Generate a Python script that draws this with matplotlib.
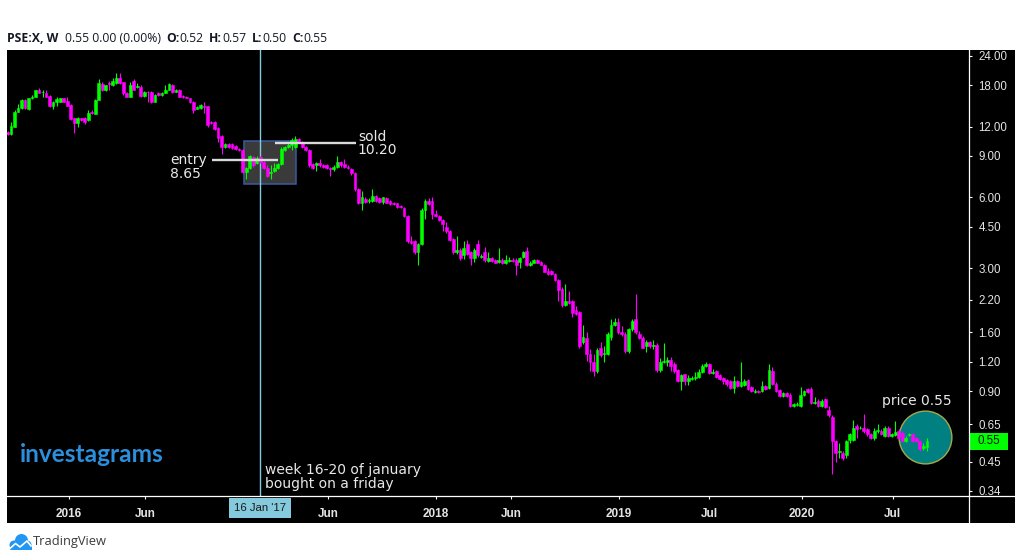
import matplotlib
matplotlib.use('Agg')
import matplotlib.pyplot as plt
import matplotlib.dates as mdates
import matplotlib.transforms as mtransforms
from matplotlib.patches import Rectangle, Circle, Polygon
from matplotlib.lines import Line2D
import numpy as np
import pandas as pd

# Weekly candles of PSE:X, one per Monday
weeks = pd.date_range('2015-08-31', periods=263, freq='7D')

opens = [
    11.35, 11.1, 12.0, 13.9, 14.4, 15.6, 14.3, 15.8, 16.1, 17.1,
    16.8, 16.7, 16.2, 14.6, 15.3, 15.3, 15.8, 15.4, 14.8, 13.0,
    12.4, 13.0, 13.1, 12.8, 13.8, 13.6, 15.6, 18.2, 17.1, 18.3,
    18.0, 18.3, 19.3, 18.5, 16.7, 16.1, 18.7, 17.6, 17.6, 16.2,
    16.85, 16.9, 15.3, 16.7, 16.3, 16.7, 17.2, 18.0, 16.9, 17.2,
    16.2, 16.1, 15.8, 15.3, 14.3, 14.4, 14.6, 14.6, 12.5, 12.6,
    11.8, 10.9, 9.8, 10.1, 10.1, 9.9, 9.6, 9.5, 7.7, 8.0,
    8.9, 8.4, 8.9, 8.5, 8.0, 7.6, 7.75, 8.0, 8.3, 9.5,
    9.8, 10.0, 9.8, 10.6, 10.3, 9.8, 9.5, 8.3, 8.2, 8.4,
    8.2, 8.2, 8.0, 7.9, 8.1, 8.5, 8.3, 8.1, 7.9, 7.6,
    6.5, 5.7, 5.93, 5.8, 5.8, 6.1, 5.95, 5.75, 5.95, 5.8,
    5.7, 5.65, 5.5, 5.4, 5.0, 3.93, 3.9, 3.5, 3.8, 5.3,
    5.8, 5.8, 5.1, 5.0, 4.8, 4.5, 4.3, 4.0, 3.5, 3.6,
    3.4, 3.8, 3.5, 3.3, 3.8, 3.35, 3.5, 3.23, 3.3, 3.25,
    3.2, 3.24, 3.15, 3.22, 3.26, 3.26, 3.2, 3.35, 3.56, 3.1,
    3.17, 3.24, 3.2, 3.1, 2.93, 2.93, 2.84, 2.67, 2.45, 2.1,
    2.18, 2.18, 2.0, 1.95, 1.45, 1.52, 1.30, 1.20, 1.10, 1.37,
    1.30, 1.30, 1.53, 1.72, 1.77, 1.60, 1.57, 1.33, 1.65, 1.83,
    1.57, 1.52, 1.40, 1.45, 1.40, 1.42, 1.11, 1.20, 1.20, 1.22,
    1.18, 1.11, 0.99, 1.06, 0.99, 1.01, 1.02, 1.03, 1.09, 1.15,
    1.18, 1.08, 1.10, 1.05, 1.02, 1.00, 0.99, 0.93, 0.99, 0.95,
    0.96, 1.00, 0.94, 0.895, 0.90, 0.90, 0.95, 0.93, 1.10, 0.97,
    0.91, 0.86, 0.88, 0.87, 0.78, 0.785, 0.78, 0.87, 0.92, 0.92,
    0.805, 0.82, 0.78, 0.83, 0.75, 0.70, 0.55, 0.495, 0.49, 0.48,
    0.56, 0.56, 0.64, 0.625, 0.63, 0.62, 0.59, 0.57, 0.61, 0.61,
    0.58, 0.63, 0.58, 0.585, 0.61, 0.60, 0.55, 0.585, 0.59, 0.57,
    0.55, 0.515, 0.52,
]
highs = [
    11.5, 12.5, 14.1, 15.0, 15.7, 15.7, 15.9, 16.3, 17.2, 17.5,
    17.1, 17.1, 16.3, 15.4, 16.1, 15.9, 15.9, 16.1, 14.9, 13.1,
    13.2, 13.1, 13.2, 14.1, 14.1, 15.7, 19.1, 18.5, 18.1, 18.7,
    19.3, 20.2, 20.2, 18.6, 16.8, 18.5, 19.2, 18.3, 18.0, 17.0,
    17.0, 17.0, 16.5, 16.8, 16.8, 18.0, 18.4, 18.2, 17.3, 17.3,
    16.3, 16.2, 15.9, 15.4, 14.6, 14.9, 15.3, 14.7, 12.7, 12.7,
    11.9, 11.0, 10.2, 10.2, 10.2, 10.0, 9.7, 9.6, 8.1, 9.1,
    9.0, 9.0, 9.0, 8.6, 8.2, 8.2, 8.4, 8.4, 9.8, 9.9,
    10.2, 10.7, 10.9, 10.7, 10.4, 9.9, 9.6, 8.4, 8.5, 8.7,
    8.3, 8.3, 8.1, 8.2, 9.0, 8.6, 8.7, 8.2, 8.0, 7.7,
    6.6, 6.4, 6.0, 5.95, 6.5, 6.15, 6.0, 6.05, 6.0, 5.85,
    5.75, 5.7, 5.55, 5.45, 5.05, 4.1, 3.95, 3.85, 5.4, 5.9,
    5.95, 6.0, 5.3, 5.05, 4.85, 4.7, 4.35, 4.05, 4.1, 3.65,
    3.93, 3.95, 3.55, 3.65, 3.95, 3.45, 3.7, 3.5, 3.35, 3.28,
    3.66, 3.3, 3.4, 3.35, 3.3, 3.3, 3.35, 3.55, 3.7, 3.22,
    3.28, 3.27, 3.22, 3.12, 3.0, 2.95, 2.86, 2.7, 2.5, 2.56,
    2.4, 2.2, 2.08, 1.97, 1.72, 1.61, 1.36, 1.30, 1.37, 1.45,
    1.40, 1.6, 1.82, 1.85, 1.85, 1.70, 1.6, 1.67, 1.83, 2.33,
    1.62, 1.54, 1.48, 1.47, 1.48, 1.44, 1.25, 1.44, 1.26, 1.26,
    1.2, 1.12, 1.07, 1.07, 1.05, 1.04, 1.09, 1.12, 1.17, 1.20,
    1.19, 1.12, 1.11, 1.06, 1.03, 1.01, 1.0, 1.04, 1.0, 1.2,
    1.01, 1.01, 0.95, 0.915, 0.91, 0.99, 0.96, 1.17, 1.14, 0.98,
    0.92, 0.89, 0.89, 0.88, 0.80, 0.81, 0.94, 0.91, 0.93, 0.94,
    0.85, 0.83, 0.83, 0.84, 0.78, 0.71, 0.56, 0.54, 0.50, 0.56,
    0.60, 0.68, 0.65, 0.64, 0.72, 0.63, 0.60, 0.63, 0.65, 0.62,
    0.64, 0.64, 0.60, 0.67, 0.62, 0.61, 0.58, 0.60, 0.60, 0.575,
    0.56, 0.54, 0.57,
]
lows = [
    11.0, 11.05, 11.9, 13.8, 14.3, 14.3, 14.1, 15.7, 16.0, 16.6,
    16.1, 16.0, 14.5, 14.2, 14.7, 15.2, 15.2, 14.6, 12.8, 11.3,
    11.9, 12.7, 12.3, 12.7, 13.5, 13.5, 15.5, 17.0, 17.0, 17.1,
    17.9, 18.2, 18.2, 16.4, 16.0, 16.0, 17.1, 17.5, 16.1, 16.1,
    15.3, 15.1, 15.2, 16.2, 16.2, 16.6, 17.1, 16.7, 16.8, 16.0,
    15.9, 15.8, 15.1, 13.7, 14.2, 14.3, 13.7, 11.9, 12.3, 11.6,
    10.3, 9.2, 9.7, 9.7, 9.6, 9.5, 9.4, 7.6, 7.2, 7.9,
    8.1, 8.3, 8.4, 7.9, 7.3, 7.2, 7.7, 7.9, 8.2, 9.4,
    9.7, 9.5, 9.7, 10.3, 9.7, 9.4, 8.1, 7.9, 7.8, 8.1,
    8.0, 7.9, 7.4, 7.8, 8.0, 8.1, 8.0, 7.9, 7.5, 6.4,
    5.6, 5.3, 5.7, 5.7, 5.75, 5.75, 5.7, 5.6, 5.65, 5.55,
    5.55, 5.4, 5.4, 4.95, 3.85, 3.8, 3.45, 3.1, 3.75, 4.85,
    5.55, 4.85, 4.95, 4.75, 4.33, 4.25, 3.9, 3.45, 3.45, 3.25,
    3.28, 3.4, 3.1, 3.2, 3.35, 3.3, 3.2, 3.2, 3.2, 3.15,
    3.17, 3.12, 3.12, 3.2, 3.2, 2.8, 3.0, 3.3, 3.05, 3.05,
    3.15, 3.15, 3.08, 2.88, 2.8, 2.8, 2.65, 2.18, 2.06, 2.08,
    2.12, 1.86, 1.89, 1.38, 1.43, 1.21, 1.10, 1.04, 1.08, 1.26,
    1.20, 1.28, 1.49, 1.70, 1.58, 1.55, 1.31, 1.31, 1.62, 1.58,
    1.50, 1.37, 1.32, 1.38, 1.36, 1.09, 1.09, 1.19, 1.15, 1.10,
    1.08, 0.98, 0.91, 0.96, 0.96, 1.0, 1.0, 1.02, 1.08, 1.14,
    1.07, 1.06, 1.02, 1.0, 0.97, 0.95, 0.92, 0.88, 0.94, 0.94,
    0.95, 0.91, 0.89, 0.88, 0.88, 0.89, 0.91, 0.92, 0.96, 0.89,
    0.85, 0.85, 0.85, 0.77, 0.77, 0.775, 0.77, 0.86, 0.88, 0.79,
    0.79, 0.77, 0.77, 0.76, 0.70, 0.40, 0.45, 0.47, 0.46, 0.47,
    0.54, 0.55, 0.57, 0.62, 0.60, 0.58, 0.565, 0.56, 0.60, 0.585,
    0.575, 0.575, 0.575, 0.58, 0.565, 0.545, 0.545, 0.58, 0.545, 0.545,
    0.50, 0.505, 0.50,
]
closes = [
    11.1, 12.1, 13.9, 14.4, 15.6, 14.4, 15.8, 16.1, 17.1, 16.7,
    16.85, 16.1, 14.6, 15.3, 15.7, 15.8, 15.3, 14.7, 12.9, 12.4,
    13.0, 12.8, 12.5, 13.7, 13.75, 15.6, 18.3, 17.1, 18.0, 18.2,
    18.7, 19.3, 18.3, 16.6, 16.1, 18.0, 17.2, 17.8, 16.2, 16.9,
    16.8, 15.2, 16.4, 16.3, 16.7, 17.2, 18.2, 16.8, 17.2, 16.1,
    16.0, 15.9, 15.2, 14.1, 14.5, 14.8, 14.5, 12.2, 12.4, 11.7,
    10.7, 9.8, 10.1, 9.8, 9.7, 9.6, 9.5, 7.7, 8.0, 9.0,
    8.2, 8.8, 8.5, 8.0, 7.4, 7.7, 8.0, 8.3, 9.6, 9.8,
    10.0, 10.5, 10.6, 10.4, 9.8, 9.5, 8.2, 8.0, 8.4, 8.2,
    8.1, 8.0, 7.95, 8.1, 8.5, 8.2, 8.1, 8.0, 7.6, 6.5,
    5.7, 6.05, 5.75, 5.82, 6.1, 5.8, 5.75, 6.0, 5.7, 5.6,
    5.6, 5.45, 5.45, 5.0, 3.9, 3.85, 3.5, 3.8, 5.3, 5.8,
    5.6, 5.1, 5.0, 4.8, 4.6, 4.3, 3.95, 3.5, 3.6, 3.3,
    3.65, 3.45, 3.3, 3.6, 3.4, 3.37, 3.25, 3.3, 3.23, 3.17,
    3.24, 3.15, 3.26, 3.26, 3.22, 3.1, 3.3, 3.5, 3.1, 3.15,
    3.24, 3.17, 3.1, 2.9, 2.82, 2.82, 2.67, 2.43, 2.1, 2.18,
    2.14, 1.94, 1.91, 1.4, 1.53, 1.30, 1.20, 1.10, 1.35, 1.28,
    1.31, 1.58, 1.72, 1.77, 1.60, 1.57, 1.33, 1.65, 1.79, 1.60,
    1.52, 1.38, 1.45, 1.40, 1.41, 1.11, 1.2, 1.21, 1.22, 1.15,
    1.10, 0.99, 1.05, 0.99, 1.02, 1.02, 1.03, 1.09, 1.15, 1.17,
    1.08, 1.09, 1.03, 1.01, 0.99, 0.97, 0.93, 0.99, 0.95, 0.98,
    0.99, 0.92, 0.90, 0.90, 0.89, 0.95, 0.92, 1.11, 0.97, 0.90,
    0.86, 0.88, 0.86, 0.78, 0.79, 0.795, 0.87, 0.90, 0.89, 0.80,
    0.81, 0.78, 0.82, 0.77, 0.71, 0.55, 0.49, 0.50, 0.47, 0.55,
    0.59, 0.63, 0.62, 0.63, 0.61, 0.59, 0.57, 0.61, 0.615, 0.59,
    0.63, 0.58, 0.59, 0.605, 0.57, 0.55, 0.57, 0.59, 0.55, 0.55,
    0.51, 0.525, 0.55,
]

price_ticks = [24, 18, 12, 9, 6, 4.5, 3, 2.2, 1.6, 1.2, 0.9, 0.65, 0.45, 0.34]
date_ticks = ['2016-01-01', '2016-06-01', '2017-06-01', '2018-01-01', '2018-06-01',
              '2019-01-01', '2019-07-01', '2020-01-01', '2020-07-01']
date_labels = ['2016', 'Jun', 'Jun', '2018', 'Jun', '2019', 'Jul', '2020', 'Jul']

entry_price = 8.65
sold_price = 10.20
last_price = 0.55


def d(s):
    return mdates.date2num(pd.Timestamp(s))


fig = plt.figure(figsize=(10.21, 5.6), dpi=100)
fig.patch.set_facecolor('white')
# pixel coordinates, origin at the top-left corner
pix = mtransforms.Affine2D().scale(0.01, -0.01).translate(0, 5.6) + fig.dpi_scale_trans

# black chart pane (plot + price scale + time scale)
fig.patches.append(Rectangle((7, 522.5), 1008, -472.5, transform=pix,
                             facecolor='black', edgecolor='none', zorder=-1))

ax = fig.add_axes([7 / 1021, (560 - 495.5) / 560, 962 / 1021, 445.5 / 560])
ax.set_facecolor('black')
ax.set_yscale('log')

x = mdates.date2num(weeks)
o = np.array(opens)
c = np.array(closes)
colors = np.where(c >= o, '#00ff00', '#ff00ff')

ax.vlines(x, lows, highs, colors=colors, linewidth=0.8, zorder=4)
ax.bar(x, np.abs(c - o), bottom=np.minimum(o, c), width=5.5, color=colors,
       edgecolor=colors, linewidth=0.4, zorder=4)

ax.set_xlim(d('2015-08-30'), d('2020-11-30'))
ax.set_ylim(0.3242, 25.38)

for s in ax.spines.values():
    s.set_visible(False)

# price scale on the right
ax.yaxis.tick_right()
ax.yaxis.set_minor_locator(matplotlib.ticker.NullLocator())
ax.yaxis.set_minor_formatter(matplotlib.ticker.NullFormatter())
ax.set_yticks(price_ticks)
ax.set_yticklabels(['%.2f' % p for p in price_ticks], family='Liberation Sans')
ax.tick_params(axis='y', colors='white', labelcolor='#e4e4e4', length=2.5,
               width=0.8, pad=4.3, labelsize=8.3)

# time scale
ax.set_xticks([d(t) for t in date_ticks])
ax.set_xticklabels(date_labels, family='Liberation Sans', fontweight='bold')
ax.tick_params(axis='x', colors='white', labelcolor='#e4e4e4', length=2.5,
               width=0.8, pad=6.5, labelsize=8.5)

# separators of the pane
fig.lines.append(Line2D([7, 1015], [495.5, 495.5], transform=pix, color='white',
                        linewidth=0.9, zorder=5))
fig.lines.append(Line2D([969, 969], [50, 522.5], transform=pix, color='white',
                        linewidth=0.9, zorder=5))

# trade box and the entry week marker
ax.add_patch(Rectangle((d('2016-12-14'), 6.81), d('2017-03-28') - d('2016-12-14'),
                       10.41 - 6.81, facecolor='#3a3a3a', edgecolor='#3b5b9e',
                       linewidth=1.1, zorder=2))
ax.axvline(d('2017-01-16'), color='#80cce0', linewidth=1, zorder=3)
ax.annotate("16 Jan '17", xy=(d('2017-01-16'), 0), xycoords=('data', 'axes fraction'),
            xytext=(0, -8.8), textcoords='offset points', ha='center', va='center',
            fontsize=8.2, family='Liberation Sans', color='#1a1a1a',
            bbox=dict(boxstyle='square,pad=0.42', facecolor='#85c9dc', edgecolor='none'),
            annotation_clip=False, zorder=6)

ax.plot([d('2016-10-11'), d('2017-02-21')], [entry_price, entry_price],
        color='#dadada', linewidth=1.7, solid_capstyle='butt', zorder=5)
ax.plot([d('2017-02-15'), d('2017-07-26')], [sold_price, sold_price],
        color='#dadada', linewidth=1.7, solid_capstyle='butt', zorder=5)

note = dict(color='#e8e8e8', fontsize=10, family='DejaVu Sans', va='baseline', zorder=6)
ax.text(d('2016-07-20'), 8.35, 'entry', **note)
ax.text(d('2016-07-20'), 7.22, '%.2f' % entry_price, **note)
ax.text(d('2017-07-30'), 10.44, 'sold', **note)
ax.text(d('2017-07-30'), 9.14, '%.2f' % sold_price, **note)
ax.text(d('2017-01-26'), 0.399, 'week 16-20 of january', **note)
ax.text(d('2017-01-26'), 0.348, 'bought on a friday', **note)
ax.text(d('2020-06-09'), 0.784, 'price %.2f' % last_price, **note)

# highlight circle around the latest price
ax.plot([d('2020-09-03')], [0.575], marker='o', markersize=38, markerfacecolor='#008080',
        markeredgecolor='#a8a84a', markeredgewidth=1, zorder=3)

# last price label on the price scale
trans = mtransforms.blended_transform_factory(ax.transAxes, ax.transData)
ax.add_patch(Rectangle((1.0, 0.5053), 0.0405, 0.5986 - 0.5053, transform=trans,
                       facecolor='#00ff00', edgecolor='none', clip_on=False, zorder=6))
ax.annotate('%.2f' % last_price, xy=(1.0, last_price), xycoords=trans, xytext=(6.3, 0),
            textcoords='offset points', ha='left', va='center', fontsize=8.3,
            family='Liberation Sans', color='#111111', annotation_clip=False, zorder=7)

# watermark
ax.text(0.0135, 0.0759, 'investagrams', transform=ax.transAxes, fontsize=17.6,
        family='Lato', fontweight='bold', color='#2b8fdc', va='baseline', zorder=1)

# header line
head = [('PSE:X, W', 'bold', 0), ('0.55 0.00 (0.00%)', 'normal', 4.5),
        ('O:', 'bold', 4), ('%.2f' % opens[-1], 'normal', 0),
        ('H:', 'bold', 4), ('%.2f' % highs[-1], 'normal', 0),
        ('L:', 'bold', 4), ('%.2f' % lows[-1], 'normal', 0),
        ('C:', 'bold', 4), ('%.2f' % closes[-1], 'normal', 0)]
prev = fig.text(7, 42, head[0][0], transform=pix, fontsize=8.7, family='Open Sans',
                fontweight='bold', color='#131722', va='baseline')
for txt, wt, gap in head[1:]:
    prev = ax.annotate(txt, xy=(1, 0), xycoords=prev, xytext=(gap, 0),
                       textcoords='offset points', va='bottom', ha='left', fontsize=8.7,
                       family='Open Sans', fontweight=wt, color='#131722',
                       annotation_clip=False)

# TradingView footer logo
blue = '#2196f3'
fig.patches.append(Circle((14, 545), 4.5, transform=pix, facecolor=blue, edgecolor='none'))
fig.patches.append(Circle((21.5, 540.5), 6.5, transform=pix, facecolor=blue, edgecolor='none'))
fig.patches.append(Circle((27, 545), 4.5, transform=pix, facecolor=blue, edgecolor='none'))
fig.patches.append(Polygon([(9.5, 545), (31.5, 545), (31.5, 549.5), (9.5, 549.5)],
                           transform=pix, facecolor=blue, edgecolor='none'))
fig.lines.append(Line2D([10, 15.5, 20, 27, 31], [548.5, 543.5, 547, 541, 546],
                        transform=pix, color='white', linewidth=1.2))
fig.text(33, 545, 'TradingView', transform=pix, fontsize=9.3, family='Open Sans',
         color='#3a3a3a', va='baseline')

fig.savefig('out.png', dpi=100, facecolor='white')
